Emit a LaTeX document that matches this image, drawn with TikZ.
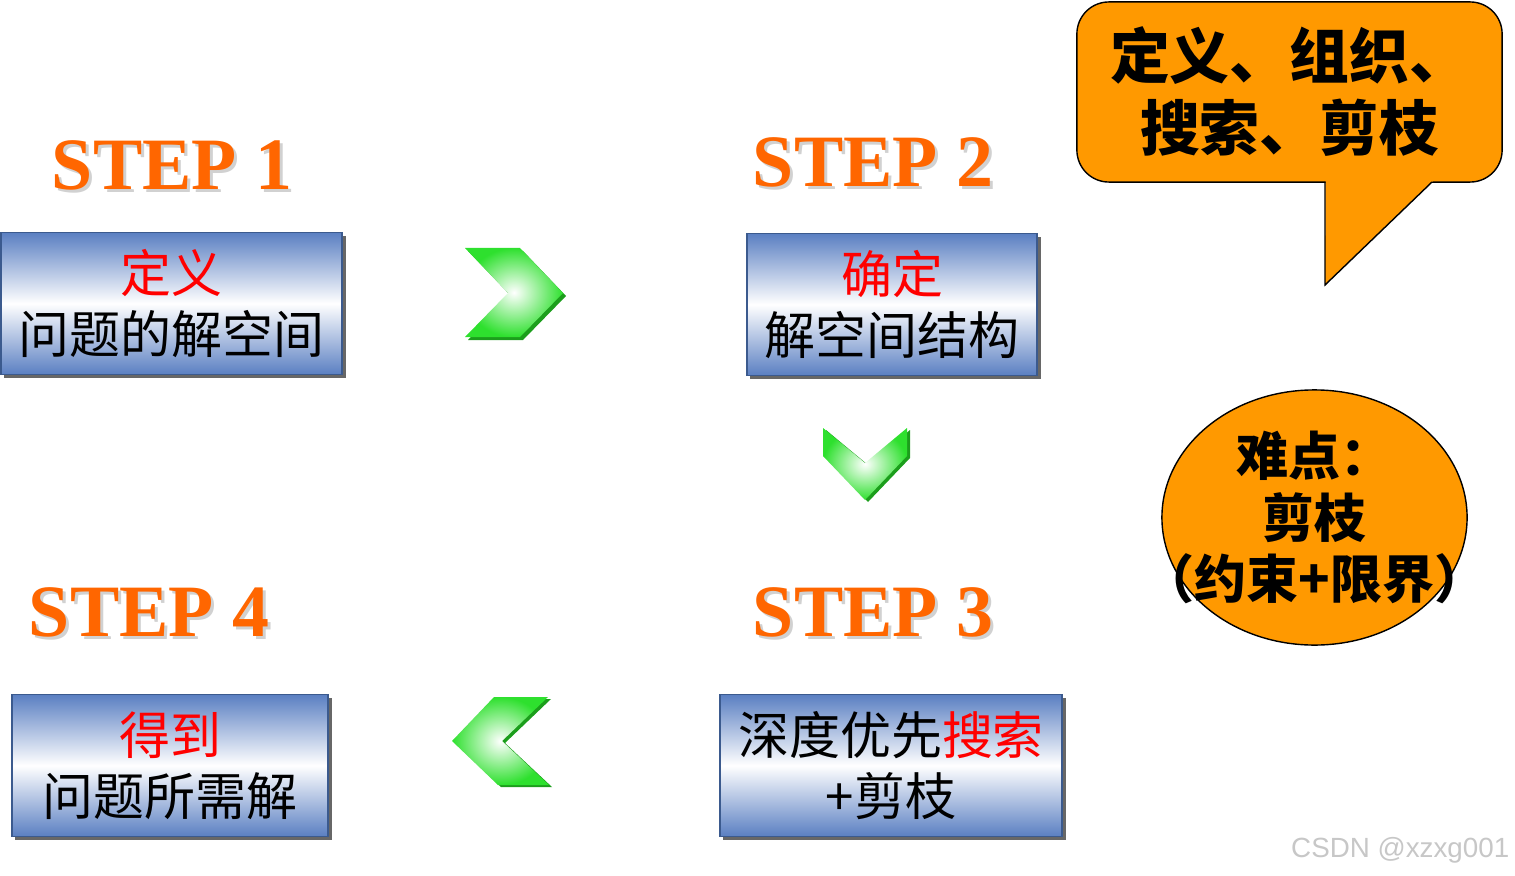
\documentclass[tikz,border=0pt]{standalone}
\usepackage{fontspec}
\newfontfamily\cjk{Noto Sans CJK SC}
\newfontfamily\stepfont{Liberation Serif}
\newfontfamily\markfont{Liberation Sans}
\usetikzlibrary{shapes.geometric,shadows}
\definecolor{BoxBlue}{HTML}{5A7FC2}
\definecolor{BoxEdge}{HTML}{3B5A8E}
\definecolor{StepOrange}{HTML}{FF6600}
\definecolor{NoteOrange}{HTML}{FF9900}
\definecolor{ChevGreen}{HTML}{2EE02E}
\definecolor{ChevDark}{HTML}{1C9E1C}
\tikzset{
  stepbox/.style={draw=BoxEdge, top color=BoxBlue, bottom color=BoxBlue, middle color=white,
                  minimum height=1.42cm, align=center, inner sep=0pt,
                  font=\cjk\fontsize{14.5}{17.3}\selectfont,
                  drop shadow={shadow xshift=0.035cm, shadow yshift=-0.035cm, fill=black!70, opacity=0.85}},
  steplabel/.style={text=StepOrange, font=\stepfont\bfseries\fontsize{21}{25}\selectfont},
  stepshade/.style={text=black!18, font=\stepfont\bfseries\fontsize{21}{25}\selectfont},
  chevron/.style={inner color=white, outer color=ChevGreen},
  chevshadow/.style={fill=ChevDark},
  notebox/.style={draw=black, fill=NoteOrange, rounded corners=0.32cm, minimum width=4.25cm,
                  minimum height=1.8cm, align=center, font=\cjk\bfseries\fontsize{17}{20.5}\selectfont},
  hardbubble/.style={draw=black, fill=NoteOrange, ellipse, minimum width=3.05cm,
                  minimum height=2.55cm, inner sep=0pt},
  hardtext/.style={align=center, font=\cjk\bfseries\fontsize{14.8}{17.6}\selectfont}
}
\begin{document}
\begin{tikzpicture}[x=0.01cm, y=-0.01cm]
\useasboundingbox (0,0) rectangle (1515,876);

% step titles
\node[stepshade] (step1shade) at (175,168) {STEP 1};
\node[steplabel] (step1) at (172,165) {STEP 1};
\node[stepshade] (step2shade) at (876,165) {STEP 2};
\node[steplabel] (step2) at (873,162) {STEP 2};
\node[stepshade] (step3shade) at (876,615) {STEP 3};
\node[steplabel] (step3) at (873,612) {STEP 3};
\node[stepshade] (step4shade) at (152,615) {STEP 4};
\node[steplabel] (step4) at (149,612) {STEP 4};

% boxes
\node[stepbox, minimum width=3.41cm] (define) at (171.5,303.5) {\textcolor{red}{定义}\\问题的解空间};
\node[stepbox, minimum width=2.90cm] (struct) at (892,304.5) {\textcolor{red}{确定}\\解空间结构};
\node[stepbox, minimum width=3.42cm] (search) at (891,765.5) {深度优先\textcolor{red}{搜索}\\+剪枝};
\node[stepbox, minimum width=3.16cm] (answer) at (170,765.5) {\textcolor{red}{得到}\\问题所需解};

% chevrons
\fill[chevshadow, shift={(3,3)}] (465,248) -- (520,248) -- (563,293) -- (520,337) -- (465,337) -- (508,293) -- cycle;
\shade[chevron] (465,248) -- (520,248) -- (563,293) -- (520,337) -- (465,337) -- (508,293) -- cycle;
\fill[chevshadow, shift={(3,2)}] (823,428) -- (865,463) -- (907,428) -- (907,456) -- (865,500) -- (823,456) -- cycle;
\shade[chevron] (823,428) -- (865,463) -- (907,428) -- (907,456) -- (865,500) -- (823,456) -- cycle;
\fill[chevshadow, shift={(3,2)}] (548,697) -- (494,697) -- (452,741) -- (498,785) -- (549,785) -- (502,741) -- cycle;
\shade[chevron] (548,697) -- (494,697) -- (452,741) -- (498,785) -- (549,785) -- (502,741) -- cycle;

% callout
\node[notebox] (note) at (1289.5,92) {定义、组织、\\搜索、剪枝};
\coordinate (notetip) at (1325,285);
\fill[NoteOrange] (1325.5,179) -- (notetip) -- (1435,179) -- cycle;
\draw (1325,182) -- (notetip) -- (1432,182);

% difficulty bubble
\node[hardbubble] (hard) at (1314.5,517.5) {};
\node[hardtext] (hardlabel) at (hard.center) {难点：\\剪枝\\（约束+限界）};

% watermark
\node[font=\markfont\fontsize{7.9}{10}\selectfont, text=black!22, anchor=east, inner sep=0pt] (mark) at (1510,850) {CSDN @xzxg001};
\end{tikzpicture}
\end{document}
